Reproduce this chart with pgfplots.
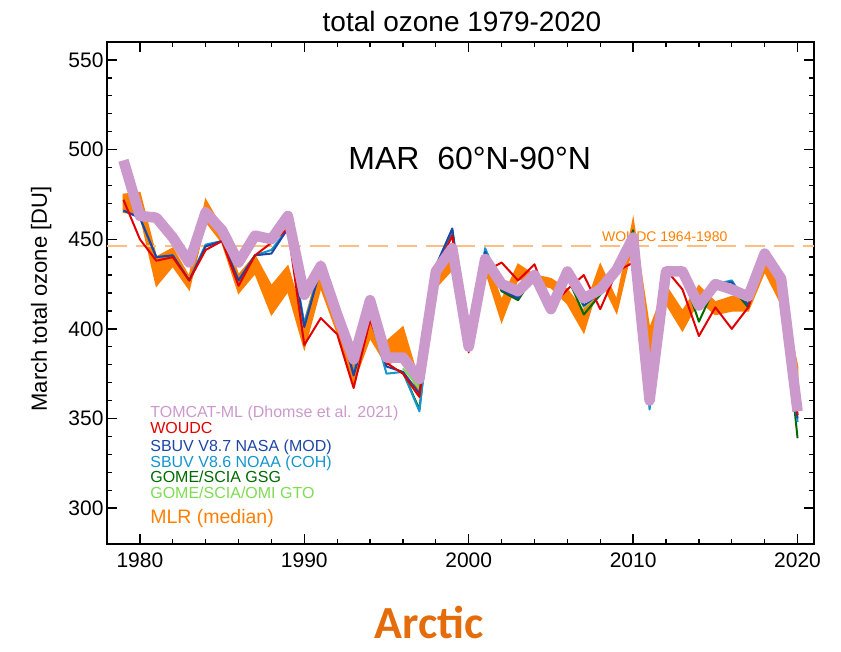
\documentclass[border=0pt]{standalone}
\usepackage{pgfplots}
\pgfplotsset{compat=1.18}
\usepackage{pgfplotstable}
\usepgfplotslibrary{fillbetween}
\usepackage{fontspec}
\setmainfont{Liberation Sans}
\newfontfamily\carlito{Carlito}
\definecolor{tomcat}{RGB}{204,153,204}
\definecolor{woudc}{RGB}{225,0,0}
\definecolor{sbuvA}{RGB}{30,70,165}
\definecolor{sbuvB}{RGB}{20,150,205}
\definecolor{gsg}{RGB}{0,105,0}
\definecolor{gto}{RGB}{125,220,80}
\definecolor{mlr}{RGB}{255,128,0}
\definecolor{dashc}{RGB}{255,190,130}
\definecolor{arctic}{RGB}{228,108,10}

\pgfplotstableread{
year tomcat woudc sbuvA sbuvB mlrlo mlrhi
1979 494 472 466 466 465 475
1980 463 450 462 462 464 476
1981 462 438 440 440 424 440
1982 451 440 441 441 435 445
1983 437 427 427 427 422 429
1984 465 444 446 447 460 472
1985 455 449 449 449 448 456
1986 437 424 427 427 420 430
1987 452 441 441 441 431 441
1988 450 448 442 444 408 424
1989 463 456 456 456 421 435
1990 419 391 401 403 389 404
1991 435 406 434 434 423 437
1992 408 397 408 408 398 410
1993 383 367 374 375 370 383
1994 416 405 407 408 395 404
1995 384 381 379 375 380 393
1996 384 375 376 376 384 401
1997 372 362 364 354 363 370
1998 432 433 435 435 423 435
1999 445 452 456 455 433 441
2000 390 387 390 390 388 395
2001 439 432 443 445 433 441
2002 425 437 422 423 404 416
2003 421 427 417 418 428 436
2004 430 436 430 430 425 430
2005 411 412 410 411 423 428
2006 432 422 430 430 414 422
2007 417 430 413 413 398 410
2008 422 411 420 420 428 436
2009 433 432 434 434 409 416
2010 451 437 453 453 448 461
2011 360 358 358 355 385 400
2012 432 433 432 432 414 424
2013 432 422 432 432 399 410
2014 413 396 412 412 416 424
2015 425 412 425 425 408 415
2016 422 400 426 427 410 418
2017 418 412 413 413 410 418
2018 442 440 441 441 432 440
2019 428 428 428 428 414 424
2020 354 352 350 348 374 379
}\maindata

\pgfplotstableread{
year gsg gto
1996 376 378
1997 355 367
1998 434 434
1999 455 452
2000 389 390
2001 442 441
2002 421 423
2003 416 418
2004 430 430
2005 410 411
2006 429 430
2007 408 412
2008 419 420
2009 433 433
2010 455 453
2011 358 359
2012 432 432
2013 431 432
2014 404 411
2015 424 425
2016 423 424
2017 412 414
2018 441 441
2019 428 428
2020 339 352
}\gomedata

\begin{document}
\begin{tikzpicture}
\begin{axis}[
  at={(0,0)}, anchor=south west,
  scale only axis, width=707pt, height=502pt,
  xmin=1978, xmax=2021, ymin=280, ymax=560,
  xtick={1980,1990,2000,2010,2020},
  ytick={300,350,400,450,500,550},
  minor x tick num=4, minor y tick num=4,
  tick align=inside,
  major tick length=10pt, minor tick length=5pt,
  every tick/.style={black, line width=1.3pt},
  axis line style={line width=1.6pt},
  xticklabel style={font=\fontsize{21}{21}\selectfont, yshift=-5pt},
  yticklabel style={font=\fontsize{21}{21}\selectfont},
  /pgf/number format/assume math mode=true,
  /pgf/number format/1000 sep={},
  clip=true,
]
% reference line
\addplot[dashc, line width=1.8pt, dash pattern=on 20pt off 9pt] coordinates {(1978,446) (2021,446)};
\node[anchor=west, inner sep=0pt, text=mlr, font=\fontsize{14}{14}\selectfont] at (axis cs:2008.1,451.4) {WOUDC 1964-1980};
% MLR band
\addplot[name path=lo, draw=none, forget plot] table[x=year, y=mlrlo] {\maindata};
\addplot[name path=hi, draw=none, forget plot] table[x=year, y=mlrhi] {\maindata};
\addplot[mlr, draw=mlr, line width=1.5pt] fill between[of=lo and hi];
% instruments
\addplot[gto, line width=2pt, line join=round] table[x=year, y=gto] {\gomedata};
\addplot[gsg, line width=2pt, line join=round] table[x=year, y=gsg] {\gomedata};
\addplot[sbuvB, line width=2pt, line join=round] table[x=year, y=sbuvB] {\maindata};
\addplot[sbuvA, line width=2pt, line join=round] table[x=year, y=sbuvA] {\maindata};
\addplot[woudc, line width=2pt, line join=round] table[x=year, y=woudc] {\maindata};
% model
\addplot[tomcat, line width=10.5pt, line join=round] table[x=year, y=tomcat] {\maindata};

% labels
\node[anchor=base, font=\fontsize{32}{32}\selectfont] at (rel axis cs:0.513,0.747) {MAR\ \ 60°N-90°N};
\begin{scope}[every node/.style={anchor=base west, inner sep=0pt, font=\fontsize{16}{16}\selectfont}]
\node[text=tomcat] at (rel axis cs:0.061,0.251) {TOMCAT-ML (Dhomse et al. 2021)};
\node[text=woudc] at (rel axis cs:0.061,0.221) {WOUDC};
\node[text=sbuvA] at (rel axis cs:0.061,0.185) {SBUV V8.7 NASA (MOD)};
\node[text=sbuvB] at (rel axis cs:0.061,0.152) {SBUV V8.6 NOAA (COH)};
\node[text=gsg] at (rel axis cs:0.061,0.122) {GOME/SCIA GSG};
\node[text=gto] at (rel axis cs:0.061,0.0916) {GOME/SCIA/OMI GTO};
\node[text=mlr, font=\fontsize{19.5}{19.5}\selectfont] at (rel axis cs:0.061,0.0418) {MLR (median)};
\end{scope}
\end{axis}
% outside texts (axis box: 707 x 502 pt, origin at lower left)
\node[anchor=base, inner sep=0pt, font=\fontsize{28}{28}\selectfont] at (355pt,512pt) {total ozone 1979-2020};
\node[anchor=base, inner sep=0pt, rotate=90, font=\fontsize{22}{22}\selectfont] at (-60pt,245pt) {March total ozone [DU]};
\node[anchor=base, inner sep=0pt, text=arctic, font=\carlito\bfseries\fontsize{46}{46}\selectfont] at (322pt,-94pt) {Arctic};
\path (-107pt,-107pt) rectangle (734pt,544pt);
\end{tikzpicture}
\end{document}
